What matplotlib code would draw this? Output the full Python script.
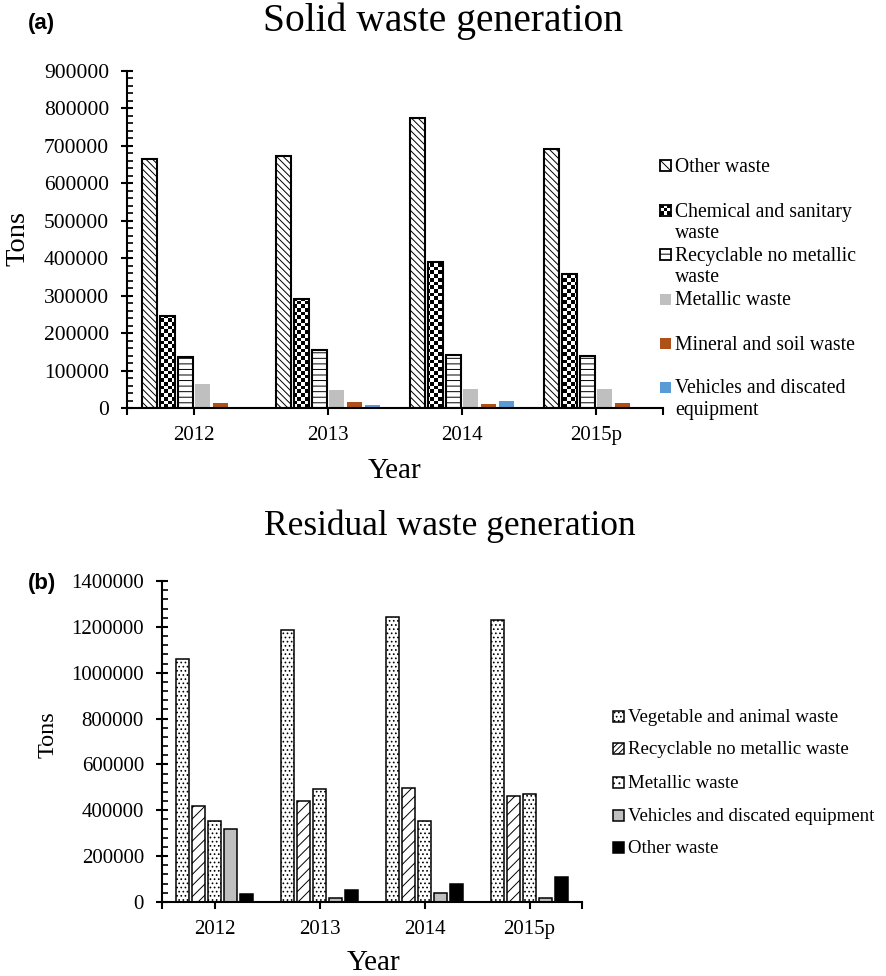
import numpy as np
import matplotlib
matplotlib.use('Agg')
import matplotlib.pyplot as plt
from matplotlib.patches import Rectangle
from matplotlib.ticker import MultipleLocator, FixedLocator, FuncFormatter

plt.rcParams['font.family'] = 'Liberation Serif'
plt.rcParams['hatch.linewidth'] = 0.7

# data
years = ['2012', '2013', '2014', '2015p']

# (a) solid waste, tons
solid_other = [664000, 674000, 775000, 692000]
solid_chemical = [246000, 291000, 391000, 357000]
solid_recyclable = [135000, 155000, 142000, 139000]
solid_metallic = [63000, 47000, 52000, 50000]
solid_mineral = [12500, 15000, 10000, 12500]
solid_vehicles = [2000, 7000, 18000, 3000]
solid_labels = ['Other waste', 'Chemical and sanitary\nwaste', 'Recyclable no metallic\nwaste',
                'Metallic waste', 'Mineral and soil waste', 'Vehicles and discated\nequipment']

# (b) residual waste, tons
res_vegetable = [1058000, 1188000, 1245000, 1232000]
res_recyclable = [420000, 442000, 497000, 464000]
res_metallic = [355000, 493000, 352000, 472000]
res_vehicles = [320000, 19000, 40000, 19000]
res_other = [37000, 52000, 80000, 110000]
res_labels = ['Vegetable and animal waste', 'Recyclable no metallic waste', 'Metallic waste',
              'Vehicles and discated equipment', 'Other waste']

W, H = 886, 976
fig = plt.figure(figsize=(W / 100, H / 100), dpi=100)


def fx(px):
    return px / W


def fy(py):
    return 1 - py / H


def style_axis(ax, ymax, ystep, yminor, ysize):
    ax.set_xlim(-0.5, 3.5)
    ax.set_ylim(0, ymax)
    for s in ['top', 'right']:
        ax.spines[s].set_visible(False)
    for s in ['left', 'bottom']:
        ax.spines[s].set_linewidth(1.5)
    ax.yaxis.set_major_locator(MultipleLocator(ystep))
    ax.yaxis.set_minor_locator(MultipleLocator(yminor))
    ax.yaxis.set_major_formatter(FuncFormatter(lambda v, _: f'{int(round(v))}'))
    ax.tick_params(axis='y', which='major', direction='inout', length=8, width=1.5, pad=9,
                   labelsize=ysize, labelfontfamily='Liberation Serif')
    ax.tick_params(axis='y', which='minor', direction='in', length=4, width=1.2)
    ax.set_xticks(range(len(years)))
    ax.set_xticklabels(years)
    ax.xaxis.set_minor_locator(FixedLocator([-0.5, 3.5]))
    ax.tick_params(axis='x', which='both', direction='out', length=5, width=1.5, pad=8,
                   labelsize=15, labelfontfamily='Liberation Serif')


x = np.arange(len(years))

# ---------------- (a) ----------------
ax1 = fig.add_axes([fx(127), fy(408), (663 - 127) / W, (408 - 71) / H])
step, bw = 0.132, 0.112
ax1.bar(x - 2.5 * step, solid_other, bw, facecolor='white', edgecolor='black', lw=1.5,
        hatch='\\\\\\\\\\', zorder=2)
chem_bars = ax1.bar(x - 1.5 * step, solid_chemical, bw, facecolor='none', edgecolor='black', lw=1.5, zorder=2)
ax1.bar(x - 0.5 * step, solid_recyclable, bw, facecolor='white', edgecolor='black', lw=1.5,
        hatch='---', zorder=2)
ax1.bar(x + 0.5 * step, solid_metallic, bw, color='#BFBFBF', zorder=2)
ax1.bar(x + 1.5 * step, solid_mineral, bw, color='#AE5119', zorder=2)
ax1.bar(x + 2.5 * step, solid_vehicles, bw, color='#5B9BD5', zorder=2)

# checkerboard fill for the chemical bars
nrow, ncol = 91, 145
checker = np.add.outer(np.arange(nrow), np.arange(ncol)) % 2
for b in chem_bars:
    im = ax1.imshow(checker, cmap='gray', extent=(-0.5, 3.5, 0, 900000), aspect='auto',
                    interpolation='nearest', zorder=1.5)
    im.set_clip_path(b)

style_axis(ax1, 900000, 100000, 20000, 15.5)

# ---------------- (b) ----------------
ax2 = fig.add_axes([fx(162), fy(902), (582 - 162) / W, (902 - 581) / H])
step, bw = 0.154, 0.125
ax2.bar(x - 2 * step, res_vegetable, bw, facecolor='white', edgecolor='black', lw=1.1, hatch='....', zorder=2)
ax2.bar(x - 1 * step, res_recyclable, bw, facecolor='white', edgecolor='black', lw=1.1, hatch='///', zorder=2)
ax2.bar(x, res_metallic, bw, facecolor='white', edgecolor='black', lw=1.1, hatch='....', zorder=2)
ax2.bar(x + 1 * step, res_vehicles, bw, facecolor='#BFBFBF', edgecolor='black', lw=1.1, zorder=2)
ax2.bar(x + 2 * step, res_other, bw, facecolor='black', edgecolor='black', lw=1.1, zorder=2)
style_axis(ax2, 1400000, 200000, 40000, 15)

# ---------------- legends (drawn by hand like the Excel ones) ----------------
styles_a = [dict(facecolor='white', edgecolor='black', lw=1.3, hatch='\\\\\\'),
            None,
            dict(facecolor='white', edgecolor='black', lw=1.3, hatch='--'),
            dict(facecolor='#BFBFBF', edgecolor='none'),
            dict(facecolor='#AE5119', edgecolor='none'),
            dict(facecolor='#5B9BD5', edgecolor='none')]
ys_a = [165, 210, 254, 299, 343, 387]
for lab, st, yc in zip(solid_labels, styles_a, ys_a):
    if st is None:
        iax = fig.add_axes([fx(660), fy(yc + 5.5), 11 / W, 11 / H])
        iax.imshow(np.add.outer(np.arange(3), np.arange(3)) % 2, cmap='gray', interpolation='nearest')
        iax.set_xticks([])
        iax.set_yticks([])
        for s in iax.spines.values():
            s.set_linewidth(1.3)
    else:
        fig.add_artist(Rectangle((fx(660), fy(yc + 5.5)), 11 / W, 11 / H, transform=fig.transFigure, **st))
    for j, line in enumerate(lab.split('\n')):
        fig.text(fx(675), fy(yc + 6.5 + 22 * j), line, fontsize=14.2, va='baseline', ha='left')

styles_b = [dict(facecolor='white', edgecolor='black', lw=1.1, hatch='....'),
            dict(facecolor='white', edgecolor='black', lw=1.1, hatch='//////'),
            dict(facecolor='white', edgecolor='black', lw=1.1, hatch='...'),
            dict(facecolor='#BFBFBF', edgecolor='black', lw=1.1),
            dict(facecolor='black', edgecolor='black', lw=1.1)]
ys_b = [716, 748, 782, 815, 847]
for lab, st, yc in zip(res_labels, styles_b, ys_b):
    fig.add_artist(Rectangle((fx(613), fy(yc + 5.5)), 11 / W, 11 / H, transform=fig.transFigure, **st))
    fig.text(fx(628), fy(yc + 6), lab, fontsize=13.6, va='baseline', ha='left')

# ---------------- titles and labels ----------------
fig.text(0.5, fy(31), 'Solid waste generation', fontsize=28.5, ha='center', va='baseline')
fig.text(fx(450), fy(535), 'Residual waste generation', fontsize=25.5, ha='center', va='baseline')
fig.text(fx(28), fy(23), '(a)', fontsize=16, fontweight='bold', family='Liberation Sans', va='center')
fig.text(fx(28), fy(584), '(b)', fontsize=16, fontweight='bold', family='Liberation Sans', va='center')
fig.text(fx(395), fy(471), 'Year', fontsize=21, ha='center', va='center')
fig.text(fx(374), fy(963), 'Year', fontsize=21, ha='center', va='center')
fig.text(fx(18), fy(238), 'Tons', fontsize=20.5, rotation=90, ha='center', va='center')
fig.text(fx(48), fy(735), 'Tons', fontsize=17.5, rotation=90, ha='center', va='center')

fig.savefig('out.png', dpi=100)
